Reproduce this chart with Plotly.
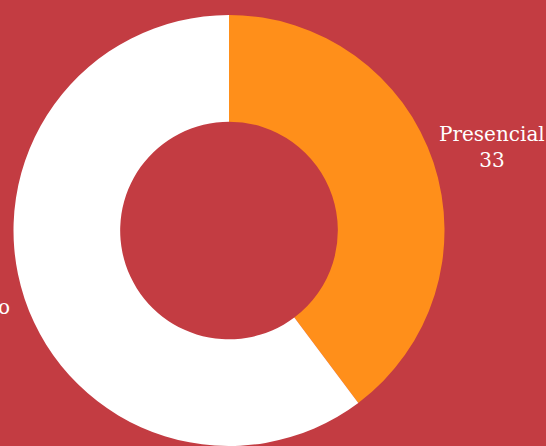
import plotly.graph_objects as go

# Modalidad de asistencia
labels = ["Presencial", "Remoto"]
values = [33, 50]
colors = ["#FF8F1A", "#FFFFFF"]

BG = "#C33C42"
W, H = 546, 446

fig = go.Figure(
    go.Pie(
        labels=labels,
        values=values,
        hole=0.505,
        sort=False,
        direction="clockwise",
        rotation=0,
        marker=dict(colors=colors, line=dict(width=0)),
        textinfo="none",
        showlegend=False,
        automargin=False,
        domain=dict(x=[13 / W, 445 / W], y=[0, 431 / H]),
        hoverinfo="label+value+percent",
    )
)

# outside slice labels: name on the first line, value below
label_spots = [
    dict(x=437, y=147, xanchor="left"),
    dict(x=12, y=320, xanchor="right"),
]
for name, val, spot in zip(labels, values, label_spots):
    fig.add_annotation(
        x=spot["x"] / W,
        y=1 - spot["y"] / H,
        xref="paper",
        yref="paper",
        xanchor=spot["xanchor"],
        yanchor="middle",
        text=f"{name}<br>{val}",
        align="center",
        showarrow=False,
        font=dict(color="white", size=20, family="DejaVu Serif"),
    )

fig.update_layout(
    width=W,
    height=H,
    margin=dict(l=0, r=0, t=0, b=0),
    paper_bgcolor=BG,
    plot_bgcolor=BG,
    font=dict(family="DejaVu Serif", color="white"),
)

fig.write_html("out.html")
